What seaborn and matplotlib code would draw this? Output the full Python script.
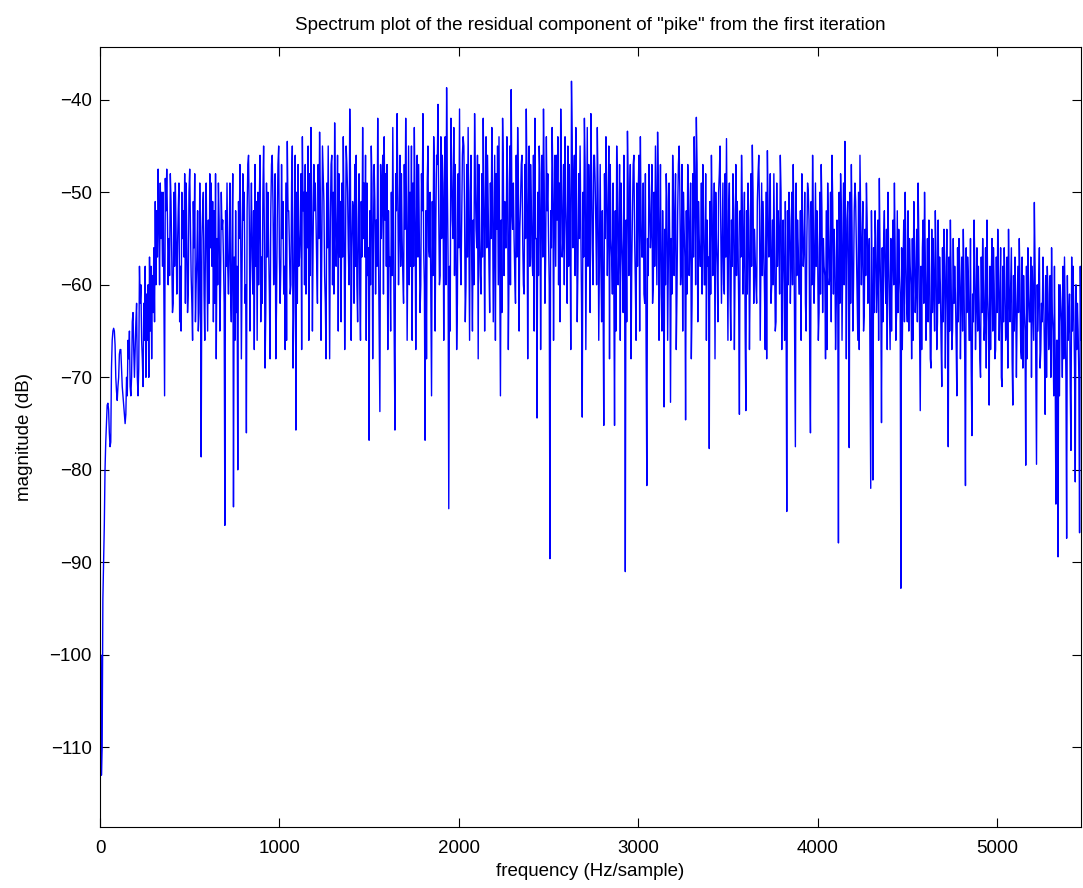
import numpy as np
import pandas as pd
import matplotlib
matplotlib.use("Agg")
import matplotlib.pyplot as plt
import seaborn as sns

# ---- data: magnitude (dB), 4 Hz bins ----
# a_* : bins 0, 12, 24 ... Hz ; b_* : bins 4, 16, 28 ... Hz ; c_* : bins 8, 20, 32 ... Hz
bin_step_hz = 4
a_0000 = [-117, -110, -86, -75, -73.5, -77, -65, -66.5, -72.5, -67.5, -69, -73, -74, -66, -71, -64, -70, -62, -69, -60]
a_0240 = [-71, -58, -66, -57, -68, -56, -60, -47.5, -49, -58, -72, -47.5, -55, -51, -62, -49, -56, -64, -50, -57]
a_0480 = [-49, -61, -53, -66, -48, -57, -63, -78.6, -50, -55, -65, -48, -58, -52, -68, -49, -60, -53, -86, -49]
a_0720 = [-56, -64, -84, -52, -80, -47, -58, -50, -76, -46, -55, -61, -47, -66, -51, -57, -45, -63, -50, -68]
a_0960 = [-46, -55, -62, -45, -58, -51, -67, -44.5, -56, -49, -63, -75.7, -47, -54, -44, -60, -50, -66, -43, -55]
a_1200 = [-49, -62, -43.5, -57, -51, -68, -45, -53, -60, -42.5, -55, -48, -64, -44, -58, -50, -41, -56, -62, -46]
a_1440 = [-53, -66, -43, -57, -49, -76.8, -45, -55, -61, -42, -73.7, -50, -44, -58, -52, -65, -43, -75.7, -41.5, -54]
a_1680 = [-48, -62, -42, -56, -50, -66, -43, -54, -47, -60, -41.5, -76.8, -49, -57, -72, -44, -53, -40.5, -59, -46]
a_1920 = [-51, -38.7, -84.2, -42, -55, -47, -62, -41, -53, -45, -60, -43, -50, -65, -41.5, -56, -47, -61, -42, -52]
a_2160 = [-46, -63, -43, -55, -48, -60, -72, -42, -51, -44, -58, -38.9, -49, -62, -43, -54, -46, -61, -41, -52]
a_2400 = [-47, -59, -42, -74.4, -45, -53, -41, -57, -48, -89.6, -43, -52, -46, -60, -41, -55, -44, -62, -47, -38.0]
a_2640 = [-50, -43, -58, -45, -74.3, -42, -54, -47, -41.5, -60, -49, -43, -56, -64, -75.2, -44, -53, -47, -61, -75.2]
a_2880 = [-45, -56, -49, -63, -91, -43.4, -52, -58, -46, -66, -50, -44, -57, -62, -81.7, -47, -54, -60, -45, -43.5]
a_3120 = [-55, -65, -73.2, -48, -57, -72.7, -46, -53, -61, -45, -58, -50, -74.6, -47, -55, -62, -44, -41.9, -51, -58]
a_3360 = [-47, -60, -53, -77.7, -46, -57, -50, -64, -45, -55, -61, -44.2, -52, -66, -48, -58, -51, -74, -46, -56]
a_3600 = [-73.6, -49, -59, -44.9, -54, -62, -46, -57, -51, -67, -45.5, -55, -60, -48, -64, -52, -46, -58, -66, -84.5]
a_3840 = [-50, -57, -47, -77.5, -53, -61, -48, -56, -65, -50, -76, -46, -58, -52, -63, -47, -55, -68, -49, -59]
a_4080 = [-46, -54, -62, -87.9, -48, -57, -44.5, -53, -77.6, -47, -60, -51, -66, -46, -56, -63, -49, -58, -82, -81.1]
a_4320 = [-52, -60, -48.5, -74.9, -55, -62, -50, -67, -57, -49, -63, -54, -92.8, -58, -50, -64, -55, -68, -51, -60]
a_4560 = [-49, -73.6, -56, -50, -62, -53, -69, -55, -52, -64, -57, -71, -54, -60, -77.5, -53, -65, -58, -72, -55]
a_4800 = [-61, -54, -81.7, -57, -66, -76.3, -53, -62, -58, -70, -55, -64, -53, -73, -59, -56, -67, -54, -62, -71]
a_5040 = [-56, -65, -54, -60, -73, -57, -63, -55, -68, -59, -79.5, -56, -64, -58, -51.1, -79.4, -60, -67, -57, -74]
a_5280 = [-58, -65, -56, -72, -83.7, -89.4, -60, -70, -57, -87.4, -64, -77.9, -58, -81.3, -62, -86.8]

b_0000 = [-100, -94, -80, -73, -76, -69, -64.7, -70, -71, -67, -71, -74, -70, -68, -72, -63, -67, -70, -58, -66]
b_0240 = [-62, -70, -60, -65, -59, -64, -52, -53, -55, -50, -48.5, -53, -59, -57, -50, -54, -52, -58, -55, -48]
b_0480 = [-55, -50, -59, -51, -64, -52, -49, -55, -61, -49, -53, -56, -51, -62, -55, -53, -50, -57, -52, -58]
b_0720 = [-49, -55, -57, -63, -51, -54, -48, -62, -52, -53, -49, -52, -58, -50, -46, -62, -54, -49, -56, -52]
b_0960 = [-51, -48, -53, -57, -47, -61, -49, -52, -61, -45, -53, -50, -58, -48, -52, -47, -56, -48, -51, -47]
b_1200 = [-53, -47, -50, -45, -59, -49, -56, -47, -50, -52, -46, -57, -49, -52, -45, -56, -48, -51, -47, -60]
b_1440 = [-48, -51, -55, -46, -59, -52, -49, -47, -53, -56, -47, -46, -53, -47, -58, -50, -55, -48, -50, -46]
b_1680 = [-55, -47, -51, -45, -58, -49, -51, -46, -55, -48, -56, -52, -45, -50, -51, -48, -46, -52, -44, -49]
b_1920 = [-44, -49, -58, -47, -43, -54, -48, -56, -46, -52, -47, -55, -46, -53, -49, -46, -55, -48, -51, -44]
b_2160 = [-52, -49, -50, -46, -54, -44, -53, -47, -56, -49, -45, -52, -55, -46, -49, -51, -55, -47, -49, -45]
b_2400 = [-51, -46, -55, -50, -48, -46, -49, -44, -55, -52, -48, -46, -53, -49, -48, -47, -51, -45, -53, -44]
b_2640 = [-46, -52, -48, -53, -50, -47, -43, -52, -48, -46, -54, -50, -47, -52, -48, -50, -45, -55, -49, -52]
b_2880 = [-50, -47, -55, -46, -53, -49, -47, -52, -55, -49, -46, -53, -49, -48, -55, -51, -47, -50, -52, -49]
b_3120 = [-47, -52, -54, -51, -49, -55, -50, -48, -52, -50, -47, -54, -52, -50, -49, -48, -50, -47, -55, -49]
b_3360 = [-53, -48, -58, -51, -52, -49, -55, -50, -53, -49, -48, -56, -49, -53, -52, -47, -55, -52, -51, -50]
b_3600 = [-52, -53, -48, -50, -57, -51, -52, -49, -56, -50, -52, -48, -53, -57, -49, -55, -50, -53, -51, -52]
b_3840 = [-53, -50, -55, -49, -56, -52, -54, -50, -55, -53, -51, -53, -49, -56, -50, -52, -58, -52, -54, -50]
b_4080 = [-51, -57, -53, -50, -52, -49, -55, -51, -50, -54, -52, -56, -50, -53, -51, -54, -53, -55, -52, -56]
b_4320 = [-55, -53, -57, -56, -52, -54, -57, -55, -53, -56, -52, -59, -56, -53, -57, -52, -58, -55, -56, -54]
b_4560 = [-55, -58, -53, -57, -55, -59, -54, -61, -57, -53, -60, -56, -58, -54, -57, -59, -55, -61, -56, -58]
b_4800 = [-57, -60, -56, -59, -55, -61, -58, -56, -62, -57, -60, -56, -61, -58, -55, -60, -57, -59, -56, -58]
b_5040 = [-60, -57, -61, -56, -59, -62, -58, -60, -57, -63, -58, -61, -57, -62, -58, -60, -56, -62, -61, -59]
b_5280 = [-61, -59, -63, -58, -66, -60, -62, -58, -64, -59, -61, -57, -63, -60, -65, -58]

c_0000 = [-113, -90, -77, -72.8, -77.5, -66, -65, -71.5, -70, -67, -72, -75, -72, -65, -70, -67, -64, -72, -62, -68]
c_0240 = [-66, -61, -70, -58, -63, -51, -57, -60, -50, -61, -52, -60, -48, -63, -58, -61, -49, -65, -52, -62]
c_0480 = [-63, -47.5, -62, -56, -60, -65, -58, -52, -66, -57, -62, -49, -64, -48, -60, -65, -54, -62, -58, -61]
c_0720 = [-61, -48, -66, -58, -55, -68, -53, -60, -47, -65, -57, -67, -51, -60, -64, -50, -69, -57, -61, -47]
c_0960 = [-60, -68, -47, -62, -55, -58, -66, -52, -60, -69, -46, -62, -57, -67, -50, -61, -45, -59, -65, -52]
c_1200 = [-58, -55, -66, -48, -62, -56, -68, -46, -61, -58, -65, -51, -57, -67, -47, -60, -66, -52, -58, -64]
c_1440 = [-61, -57, -49, -66, -56, -60, -68, -51, -58, -65, -55, -61, -48, -67, -57, -59, -66, -52, -60, -58]
c_1680 = [-59, -54, -66, -60, -45, -58, -67, -57, -63, -52, -60, -68, -56, -61, -59, -65, -47, -60, -55, -66]
c_1920 = [-60, -57, -65, -53, -59, -67, -56, -60, -44, -64, -57, -66, -58, -60, -54, -68, -59, -57, -65, -56]
c_2160 = [-58, -55, -64, -66, -45, -57, -63, -59, -56, -67, -60, -54, -59, -57, -65, -47, -60, -55, -68, -58]
c_2400 = [-57, -65, -55, -59, -67, -57, -62, -52, -60, -56, -66, -58, -44, -64, -57, -60, -55, -58, -67, -56]
c_2640 = [-59, -64, -55, -62, -57, -67, -58, -63, -56, -46, -60, -66, -58, -61, -55, -59, -68, -57, -60, -65]
c_2880 = [-60, -66, -58, -57, -64, -59, -68, -47, -60, -58, -65, -57, -61, -67, -59, -56, -62, -58, -60, -66]
c_3120 = [-61, -58, -60, -66, -56, -61, -59, -67, -47, -60, -65, -57, -61, -59, -68, -57, -60, -64, -58, -61]
c_3360 = [-60, -66, -57, -61, -59, -68, -58, -48, -62, -60, -57, -66, -61, -58, -67, -59, -62, -57, -61, -65]
c_3600 = [-61, -67, -58, -62, -60, -48, -66, -59, -61, -68, -57, -62, -60, -65, -58, -61, -67, -59, -62, -60]
c_3840 = [-62, -60, -67, -59, -61, -66, -58, -62, -49, -68, -60, -62, -58, -66, -61, -63, -59, -67, -60, -64]
c_4080 = [-61, -67, -59, -62, -66, -60, -68, -58, -62, -65, -49, -61, -67, -60, -65, -59, -62, -68, -61, -63]
c_4320 = [-63, -66, -61, -64, -59, -67, -62, -65, -60, -66, -63, -61, -67, -64, -62, -65, -60, -66, -63, -64]
c_4560 = [-64, -67, -62, -66, -64, -68, -63, -65, -67, -62, -66, -64, -69, -63, -65, -67, -62, -66, -64, -68]
c_4800 = [-65, -68, -63, -66, -69, -64, -67, -65, -68, -63, -66, -69, -64, -67, -65, -68, -63, -66, -70, -64]
c_5040 = [-66, -69, -64, -68, -65, -70, -63, -67, -69, -65, -68, -64, -70, -66, -68, -65, -69, -64, -67, -70]
c_5280 = [-67, -70, -65, -69, -66, -72, -64, -68, -70, -66, -71, -65, -69, -67, -70, -66]

x_ticks = [0, 1000, 2000, 3000, 4000, 5000]
y_ticks = [-110, -100, -90, -80, -70, -60, -50, -40]
title_text = 'Spectrum plot of the residual component of "pike" from the first iteration'
x_label = "frequency (Hz/sample)"
y_label = "magnitude (dB)"

blocks = ["0000", "0240", "0480", "0720", "0960", "1200", "1440", "1680", "1920", "2160",
          "2400", "2640", "2880", "3120", "3360", "3600", "3840", "4080", "4320", "4560",
          "4800", "5040", "5280"]
g = globals()
a_bins = sum((g["a_" + k] for k in blocks), [])
b_bins = sum((g["b_" + k] for k in blocks), [])
c_bins = sum((g["c_" + k] for k in blocks), [])

magnitude = np.empty(len(a_bins) + len(b_bins) + len(c_bins))
magnitude[0::3] = a_bins
magnitude[1::3] = b_bins
magnitude[2::3] = c_bins
frequency = np.arange(len(magnitude)) * bin_step_hz
df = pd.DataFrame({"freq": frequency, "mag": magnitude})

# ---- style ----
sns.set_theme(style="white")
plt.rcParams["font.family"] = ["Liberation Sans", "DejaVu Sans"]
plt.rcParams["axes.unicode_minus"] = True

fig = plt.figure(figsize=(10.83, 8.88), dpi=100)
ax = fig.add_axes([100 / 1083, 1 - 827 / 888, 981 / 1083, 780 / 888])

sns.lineplot(data=df, x="freq", y="mag", ax=ax, color=(0, 0, 1), linewidth=1.0,
             estimator=None, sort=False)

ax.set_xlim(0, 5468)
ax.set_ylim(-118.6, -34.3)
ax.set_xticks(x_ticks)
ax.set_yticks(y_ticks)
ax.tick_params(direction="in", length=6.5, width=0.8, top=True, right=True,
               bottom=True, left=True, labelsize=13.5, colors="black")
ax.tick_params(axis="x", pad=9)
ax.tick_params(axis="y", pad=6)
for s in ax.spines.values():
    s.set_color("black")
    s.set_linewidth(0.8)
ax.set_title(title_text, fontsize=13.5, pad=12, color="black")
ax.set_xlabel(x_label, fontsize=13.5, labelpad=5, color="black")
ax.set_ylabel(y_label, fontsize=13.5, labelpad=12, color="black")
ax.grid(False)

fig.savefig("out.png", dpi=100, facecolor="white")
